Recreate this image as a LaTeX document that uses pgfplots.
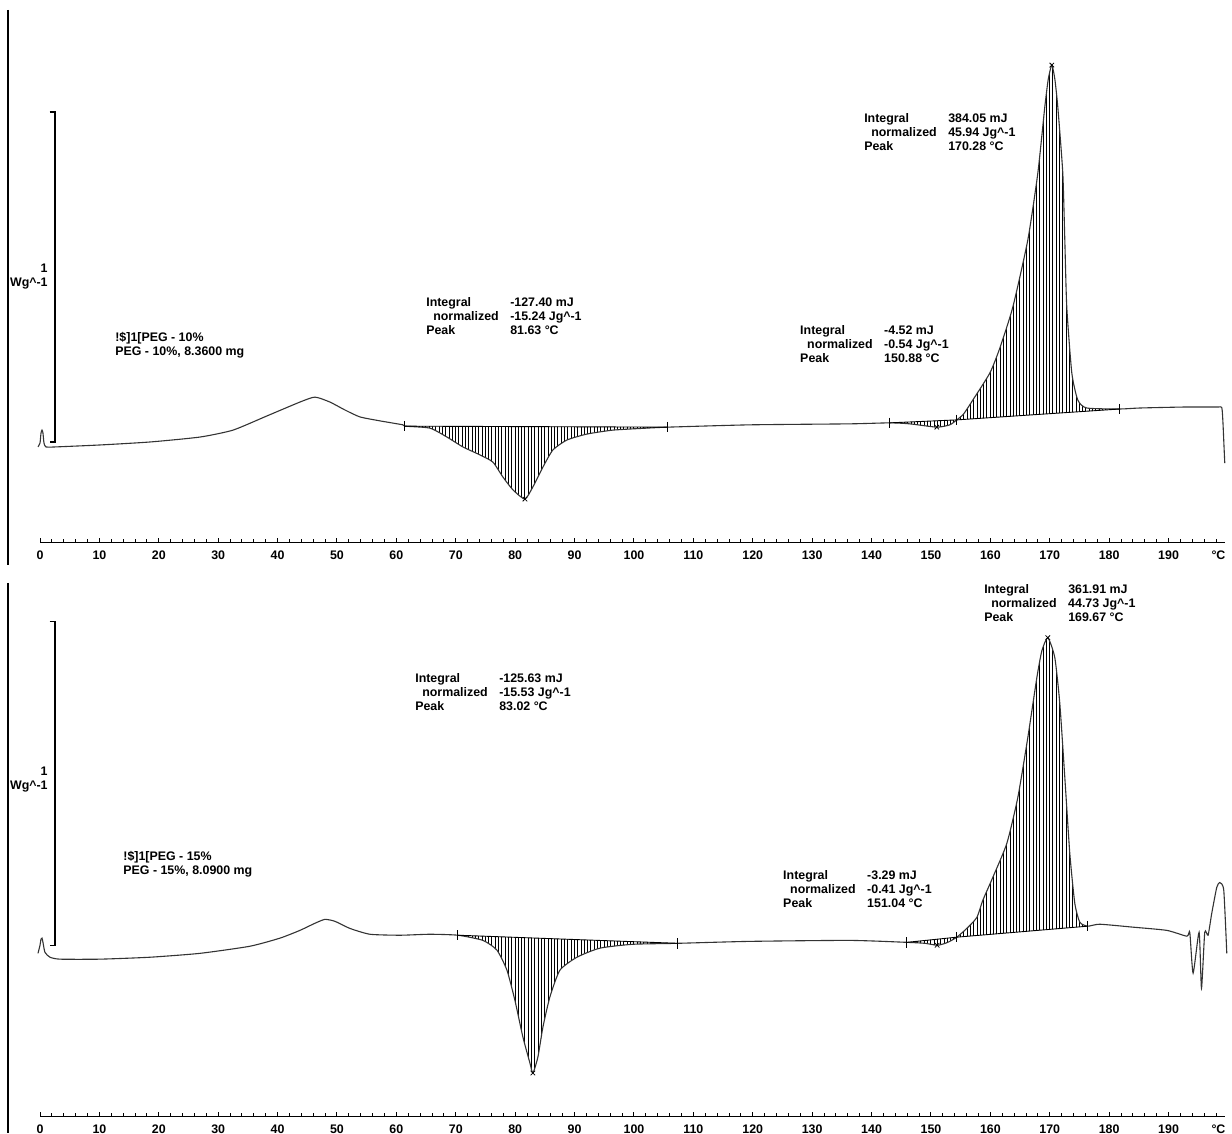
\documentclass[border=0pt]{standalone}
\usepackage{fontspec}
\setmainfont{Liberation Sans}
\usepackage{pgfplots}
\pgfplotsset{compat=1.18}
\usepgfplotslibrary{fillbetween}
\usetikzlibrary{patterns.meta}
\newcommand\lab{\bfseries\fontsize{6.2}{7}\selectfont}
\newcommand\blk[3]{\makebox[42pt][l]{Integral}#1\\\makebox[42pt][l]{\hspace*{3.5pt}normalized}#2\\\makebox[42pt][l]{Peak}#3}
\pgfplotsset{
  dscaxis/.style={
    scale only axis, width=592.5pt, height=266.5pt,
    xmin=0, xmax=199.5,
    axis x line*=bottom, axis y line=none, ytick=\empty,
    x axis line style={-, line width=0.5pt},
    xtick={0,10,...,190}, minor xtick={0,2,...,198},
    tick align=inside, major tick length=2.4pt, minor tick length=1.8pt,
    tick style={black, line width=0.5pt},
    /pgf/number format/assume math mode=true,
    xticklabel style={font=\lab, inner sep=0pt, yshift=-3.6pt},
    clip=false, anchor=south west,
  },
  curve/.style={black!80, line width=0.55pt, smooth, tension=0.35},
  hatch/.style={draw=none, pattern={Lines[angle=90,distance=1.65pt,line width=0.3pt]}},
  base/.style={black, line width=0.45pt},
  lim/.style={only marks, mark=|, mark size=2.6pt, black, mark options={line width=0.5pt}},
  pk/.style={only marks, mark=x, mark size=1.6pt, black, mark options={line width=0.4pt}},
}
\begin{document}
\begin{tikzpicture}
\path (0,0) rectangle (616pt,566.5pt);
% ---------------- top panel: PEG - 10%
\begin{axis}[dscaxis, at={(20pt,295pt)}, ymin=-0.306, ymax=1.309]
\addplot[curve, name path=c1] coordinates {
(-0.34,-0.015)(0,-0.003)(0.17,0.027)(0.34,0.036)(0.5,0.027)(0.67,-0.003)(1.0,-0.015)
(2.52,-0.015)(10.1,-0.009)(18.5,0.0)(26.93,0.015)(32.49,0.036)(38.21,0.079)(43.76,0.121)
(46.29,0.136)(48.81,0.121)(51.34,0.097)(53.86,0.076)(57.23,0.064)(61.10,0.052)
(61.44,0.048)(65.65,0.042)(68.51,0.015)(71.20,-0.015)(74.06,-0.039)(76.25,-0.061)
(77.93,-0.106)(79.62,-0.145)(81.64,-0.173)(82.98,-0.136)(84.67,-0.076)(86.35,-0.024)
(88.71,0.006)(92.07,0.024)(96.45,0.036)(102.17,0.042)(105.71,0.045)
(119.51,0.052)(136.34,0.055)(143.07,0.058)(146.44,0.055)(150.98,0.045)(153.17,0.052)
(154.35,0.067)(155.5,0.085)(157.04,0.127)(159.91,0.209)(161.6,0.285)(163.78,0.409)
(166.30,0.612)(167.99,0.815)(169.16,1.015)(169.75,1.10)(170.34,1.142)(170.85,1.10)
(171.35,1.015)(172.19,0.815)(172.53,0.612)(172.86,0.409)(173.71,0.209)(174.72,0.127)
(176.23,0.103)(181.79,0.100)(185.15,0.103)(192.73,0.106)(198.2,0.106)(198.96,0.104)
(199.15,0.06)(199.3,0.0)(199.46,-0.064)
};
\addplot[base, name path=b11] coordinates {(61.44,0.048)(105.71,0.045)};
\addplot[base, name path=b12] coordinates {(143.07,0.058)(154.35,0.067)};
\addplot[base, name path=b13] coordinates {(154.35,0.067)(181.79,0.100)};
\addplot[hatch] fill between[of=c1 and b11, soft clip={domain=61.44:105.71}];
\addplot[hatch] fill between[of=c1 and b12, soft clip={domain=143.07:154.35}];
\addplot[hatch] fill between[of=c1 and b13, soft clip={domain=154.35:181.79}];
\addplot[lim] coordinates {(61.44,0.048)(105.71,0.045)(143.07,0.058)(154.35,0.067)(181.79,0.100)};
\addplot[pk] coordinates {(81.64,-0.173)(150.98,0.045)(170.34,1.142)};
% scale bar
\draw[line width=0.55pt] (axis cs:1.62,1) -- (axis cs:2.52,1) -- (axis cs:2.52,0) -- (axis cs:1.62,0);
\node[anchor=north east, inner sep=0pt, align=right, font=\lab] at (axis cs:1.35,0.541) {1\\Wg\textasciicircum-1};
\node[anchor=north west, inner sep=0pt, align=left, font=\lab] at (axis cs:12.62,0.335) {!\$]1[PEG - 10\%\\PEG - 10\%, 8.3600 mg};
\node[anchor=north west, inner sep=0pt, align=left, font=\lab] at (axis cs:64.97,0.438) {\blk{-127.40 mJ}{-15.24 Jg\textasciicircum-1}{81.63 °C}};
\node[anchor=north west, inner sep=0pt, align=left, font=\lab] at (axis cs:127.92,0.353) {\blk{-4.52 mJ}{-0.54 Jg\textasciicircum-1}{150.88 °C}};
\node[anchor=north west, inner sep=0pt, align=left, font=\lab] at (axis cs:138.70,0.998) {\blk{384.05 mJ}{45.94 Jg\textasciicircum-1}{170.28 °C}};
\node[anchor=north, inner sep=0pt, yshift=-3.6pt, font=\lab] at (axis cs:198.4,-0.306) {°C};
\end{axis}
% ---------------- bottom panel: PEG - 15%
\begin{axis}[dscaxis, at={(20pt,8pt)}, ymin=-0.531, ymax=1.117]
\addplot[curve, name path=c2] coordinates {
(-0.34,-0.025)(0,0.0)(0.17,0.019)(0.34,0.022)(0.5,0.009)(0.84,-0.022)(1.68,-0.037)
(3.37,-0.043)(10.10,-0.043)(18.52,-0.037)(26.93,-0.025)(35.35,-0.003)(40.40,0.022)
(43.76,0.046)(46.29,0.068)(47.97,0.080)(49.66,0.074)(52.18,0.052)(55.55,0.034)
(60.60,0.031)(65.65,0.034)(70.36,0.031)(74.57,0.015)(76.92,-0.015)(78.61,-0.077)
(79.95,-0.170)(81.30,-0.284)(82.48,-0.364)(82.98,-0.395)(83.82,-0.346)(84.67,-0.253)
(85.84,-0.160)(87.53,-0.077)(90.39,-0.037)(94.26,-0.009)(99.81,0.003)(107.39,0.006)
(119.51,0.012)(136.34,0.015)(145.94,0.009)(148.97,0.006)(151.14,0.0)(152.83,0.009)
(154.35,0.025)(156.03,0.052)(157.72,0.086)(158.73,0.139)(160.41,0.210)(162.77,0.315)
(164.62,0.457)(166.30,0.642)(167.82,0.827)(168.66,0.910)(169.67,0.951)(170.85,0.889)
(171.69,0.747)(172.53,0.519)(173.37,0.284)(174.21,0.130)(175.06,0.071)(176.40,0.059)
(178.42,0.065)(183.98,0.056)(189.70,0.046)(193.07,0.028)(193.57,0.040)(194.13,-0.086)
(195.14,0.040)(195.54,-0.133)(196.09,0.040)(196.65,0.031)(197.27,0.099)(198.11,0.179)
(198.62,0.194)(199.29,0.170)(199.80,-0.025)
};
\addplot[base, name path=b21] coordinates {(70.36,0.031)(107.39,0.006)};
\addplot[base, name path=b22] coordinates {(145.94,0.009)(154.35,0.025)};
\addplot[base, name path=b23] coordinates {(154.35,0.025)(176.40,0.059)};
\addplot[hatch] fill between[of=c2 and b21, soft clip={domain=70.36:107.39}];
\addplot[hatch] fill between[of=c2 and b22, soft clip={domain=145.94:154.35}];
\addplot[hatch] fill between[of=c2 and b23, soft clip={domain=154.35:176.40}];
\addplot[lim] coordinates {(70.36,0.031)(107.39,0.006)(145.94,0.009)(154.35,0.025)(176.40,0.059)};
\addplot[pk] coordinates {(82.98,-0.395)(151.04,0.0)(169.67,0.951)};
\draw[line width=0.55pt] (axis cs:1.62,1) -- (axis cs:2.52,1) -- (axis cs:2.52,0) -- (axis cs:1.62,0);
\node[anchor=north east, inner sep=0pt, align=right, font=\lab] at (axis cs:1.35,0.554) {1\\Wg\textasciicircum-1};
\node[anchor=north west, inner sep=0pt, align=left, font=\lab] at (axis cs:13.97,0.292) {!\$]1[PEG - 15\%\\PEG - 15\%, 8.0900 mg};
\node[anchor=north west, inner sep=0pt, align=left, font=\lab] at (axis cs:63.12,0.841) {\blk{-125.63 mJ}{-15.53 Jg\textasciicircum-1}{83.02 °C}};
\node[anchor=north west, inner sep=0pt, align=left, font=\lab] at (axis cs:125.06,0.233) {\blk{-3.29 mJ}{-0.41 Jg\textasciicircum-1}{151.04 °C}};
\node[anchor=north west, inner sep=0pt, align=left, font=\lab] at (axis cs:158.90,1.116) {\blk{361.91 mJ}{44.73 Jg\textasciicircum-1}{169.67 °C}};
\node[anchor=north, inner sep=0pt, yshift=-3.6pt, font=\lab] at (axis cs:198.4,-0.531) {°C};
\end{axis}
% left frame lines
\draw[line width=0.6pt] (4pt,561.5pt) -- (4pt,284pt);
\draw[line width=0.6pt] (4pt,275pt) -- (4pt,0pt);
\end{tikzpicture}
\end{document}
